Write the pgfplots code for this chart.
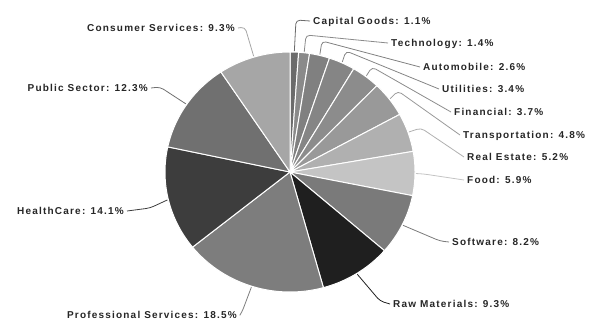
\documentclass[border=0pt]{standalone}
\usepackage{pgfplots}
\pgfplotsset{compat=1.18}
\usepackage{pgfplotstable}
\usepackage{fontspec}
\setmainfont{Liberation Sans}
\newfontfamily\lblfont{Liberation Sans}[LetterSpace=12]

% name, percent, gray (percent black), label x/y (pixels from top-left), side (1=right,0=left), connector bend x/y
\pgfplotstableread[col sep=comma]{
name,value,k,lx,ly,side,bx,by
Capital Goods,1.1,58,313,21,1,296,20
Technology,1.4,46,391,43,1,306,35
Automobile,2.6,50,423,67,1,322,41
Utilities,3.4,48,442,89,1,346,51
Financial,3.7,45,454,112,1,372,67
Transportation,4.8,40,463,135,1,398,91
Real Estate,5.2,31,467,157,1,421,128
Food,5.9,23,467,180,1,424,174
Software,8.2,52,452,242,1,440,241
Raw Materials,9.3,88,393,304,1,380,301
Professional Services,18.5,51,237,315,0,242,312
HealthCare,14.1,76,124,211,0,150,208
Public Sector,12.3,56,148,88,0,160,87
Consumer Services,9.3,35,235,28,0,245,27
}\piedata

\begin{document}
\begin{tikzpicture}
\useasboundingbox (0,0) rectangle (593pt,322pt);
\begin{axis}[x=1pt,y=1pt,hide axis,xmin=0,xmax=593,ymin=0,ymax=322,
  clip=false,at={(0,0)},anchor=origin]
\pgfplotstablegetrowsof{\piedata}
\pgfmathtruncatemacro\N{\pgfplotsretval-1}
\def\tot{0}
\pgfplotsforeachungrouped \i in {0,...,\N}{%
  \pgfplotstablegetelem{\i}{value}\of\piedata
  \pgfmathsetmacro\tot{\tot+\pgfplotsretval}%
}
\def\cum{0}
\pgfplotsforeachungrouped \i in {0,...,\N}{%
  \pgfplotstablegetelem{\i}{value}\of\piedata \let\v\pgfplotsretval
  \pgfplotstablegetelem{\i}{k}\of\piedata \let\k\pgfplotsretval
  \pgfplotstablegetelem{\i}{name}\of\piedata \let\nm\pgfplotsretval
  \pgfplotstablegetelem{\i}{lx}\of\piedata \let\lx\pgfplotsretval
  \pgfplotstablegetelem{\i}{ly}\of\piedata \let\ly\pgfplotsretval
  \pgfplotstablegetelem{\i}{side}\of\piedata \let\side\pgfplotsretval
  \pgfplotstablegetelem{\i}{bx}\of\piedata \let\bx\pgfplotsretval
  \pgfplotstablegetelem{\i}{by}\of\piedata \let\by\pgfplotsretval
  \pgfmathsetmacro\a{\cum/\tot*360}%
  \pgfmathsetmacro\cum{\cum+\v}%
  \pgfmathsetmacro\b{\cum/\tot*360}%
  \pgfmathsetmacro\m{(\a+\b)/2}%
  \pgfmathsetmacro\ex{290+126*sin(\m)}%
  \pgfmathsetmacro\ey{150+121*cos(\m)}%
  \pgfmathsetmacro\byy{322-\by}%
  \pgfmathsetmacro\ayy{322-\ly}%
  \pgfmathsetmacro\lyy{322-\ly-3.6}%
  \ifnum\side=1
    \def\anc{base west}\pgfmathsetmacro\axx{\lx-3}%
  \else
    \def\anc{base east}\pgfmathsetmacro\axx{\lx+3}%
  \fi
  \edef\cmd{\noexpand\addplot[fill=black!\k, draw=white, line width=1pt,
     domain=\a:\b, samples=40] ({290+125*sin(x)},{150+120*cos(x)})
     -- (axis cs:290,150) -- cycle;}%
  \cmd
  \edef\cmd{\noexpand\addplot[draw=black!\k, line width=0.8pt, rounded corners=4pt,
     mark=none] coordinates {(\ex,\ey) (\bx,\byy) (\axx,\ayy)};}%
  \cmd
  \edef\cmd{\noexpand\node[anchor=\anc, inner sep=0pt, text=black!85,
     font=\noexpand\lblfont\noexpand\bfseries\noexpand\fontsize{10}{12}\noexpand\selectfont]
     at (axis cs:\lx,\lyy) {\nm: \v\noexpand\%};}%
  \cmd
}
\end{axis}
\end{tikzpicture}
\end{document}
